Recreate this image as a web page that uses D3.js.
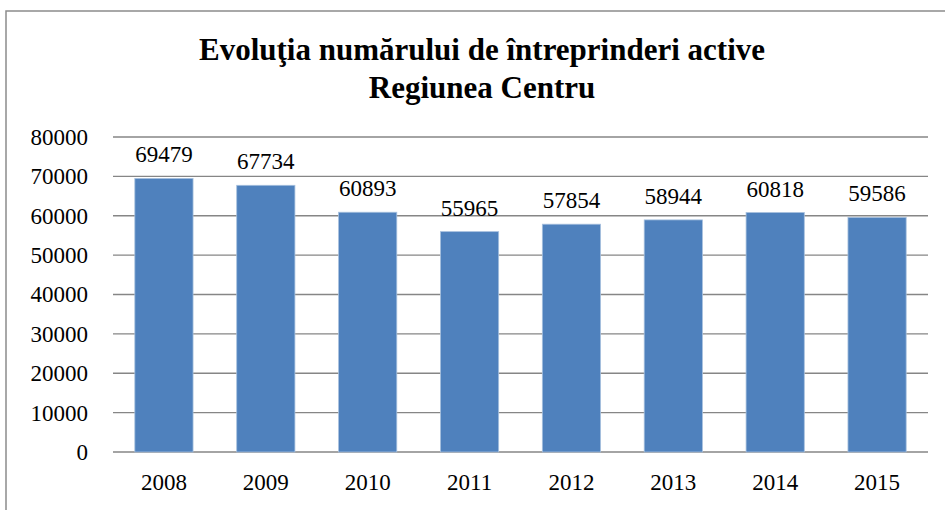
<!DOCTYPE html>
<html>
<head>
<meta charset="utf-8">
<script src="https://cdn.jsdelivr.net/npm/d3@7"></script>
<style>
  body { margin: 0; background: #fff; }
</style>
</head>
<body>
<div id="chart"></div>
<script>
// data
var years = ["2008", "2009", "2010", "2011", "2012", "2013", "2014", "2015"];
var firms = [69479, 67734, 60893, 55965, 57854, 58944, 60818, 59586];
var yTicks = [0, 10000, 20000, 30000, 40000, 50000, 60000, 70000, 80000];
var titleLines = ["Evoluţia numărului de întreprinderi active", "Regiunea Centru"];

var FONT = "'Times New Roman', 'Liberation Serif', 'DejaVu Serif', serif";

var W = 945, H = 510;
var margin = {top: 137, right: 17, bottom: 58, left: 113};
var width = W - margin.left - margin.right,
    height = H - margin.top - margin.bottom;

var svg = d3.select("#chart").append("svg")
    .attr("width", W)
    .attr("height", H)
    .style("font-family", FONT);

// outer frame
svg.append("rect")
    .attr("x", 6).attr("y", 11)
    .attr("width", W + 10).attr("height", H + 10)
    .attr("fill", "none")
    .attr("stroke", "#8c8c8c")
    .attr("stroke-width", 1.5);

svg.selectAll(".title")
    .data(titleLines)
  .enter().append("text")
    .attr("class", "title")
    .attr("x", 482)
    .attr("y", function(d, i) { return 60 + i * 38; })
    .attr("text-anchor", "middle")
    .style("font-family", FONT)
    .style("font-size", "31px")
    .style("font-weight", "bold")
    .text(function(d) { return d; });

var g = svg.append("g")
    .attr("transform", "translate(" + margin.left + "," + margin.top + ")");

var x = d3.scaleBand().domain(years).range([0, width]).paddingInner(0.4286).paddingOuter(0.2143);
var y = d3.scaleLinear().domain([0, 80000]).range([height, 0]);

// gridlines
g.selectAll(".grid")
    .data(yTicks)
  .enter().append("line")
    .attr("x1", 0).attr("x2", width)
    .attr("y1", function(d) { return y(d); })
    .attr("y2", function(d) { return y(d); })
    .attr("stroke", "#868686")
    .attr("stroke-width", 1.3);

var yAxis = d3.axisLeft(y).tickValues(yTicks).tickSize(0).tickPadding(25).tickFormat(d3.format("d"));
g.append("g").call(yAxis)
    .attr("font-family", null)
    .call(function(s) { s.select(".domain").remove(); })
    .selectAll("text")
    .style("font-family", FONT)
    .style("font-size", "23px")
    .attr("fill", "#000");

var xAxis = d3.axisBottom(x).tickSize(0).tickPadding(22);
g.append("g")
    .attr("transform", "translate(0," + height + ")")
    .call(xAxis)
    .attr("font-family", null)
    .call(function(s) { s.select(".domain").remove(); })
    .selectAll("text")
    .style("font-family", FONT)
    .style("font-size", "23px")
    .attr("fill", "#000");

var data = years.map(function(yr, i) { return {year: yr, value: firms[i]}; });

g.selectAll(".bar")
    .data(data)
  .enter().append("rect")
    .attr("x", function(d) { return x(d.year); })
    .attr("y", function(d) { return y(d.value); })
    .attr("width", x.bandwidth())
    .attr("height", function(d) { return height - y(d.value); })
    .attr("fill", "#4f81bd")
    .attr("stroke", "#a7c0de")
    .attr("stroke-width", 0.8);

g.selectAll(".lbl")
    .data(data)
  .enter().append("text")
    .attr("x", function(d) { return x(d.year) + x.bandwidth() / 2; })
    .attr("y", function(d) { return y(d.value) - 16; })
    .attr("text-anchor", "middle")
    .style("font-family", FONT)
    .style("font-size", "23px")
    .text(function(d) { return d.value; });
</script>
</body>
</html>
